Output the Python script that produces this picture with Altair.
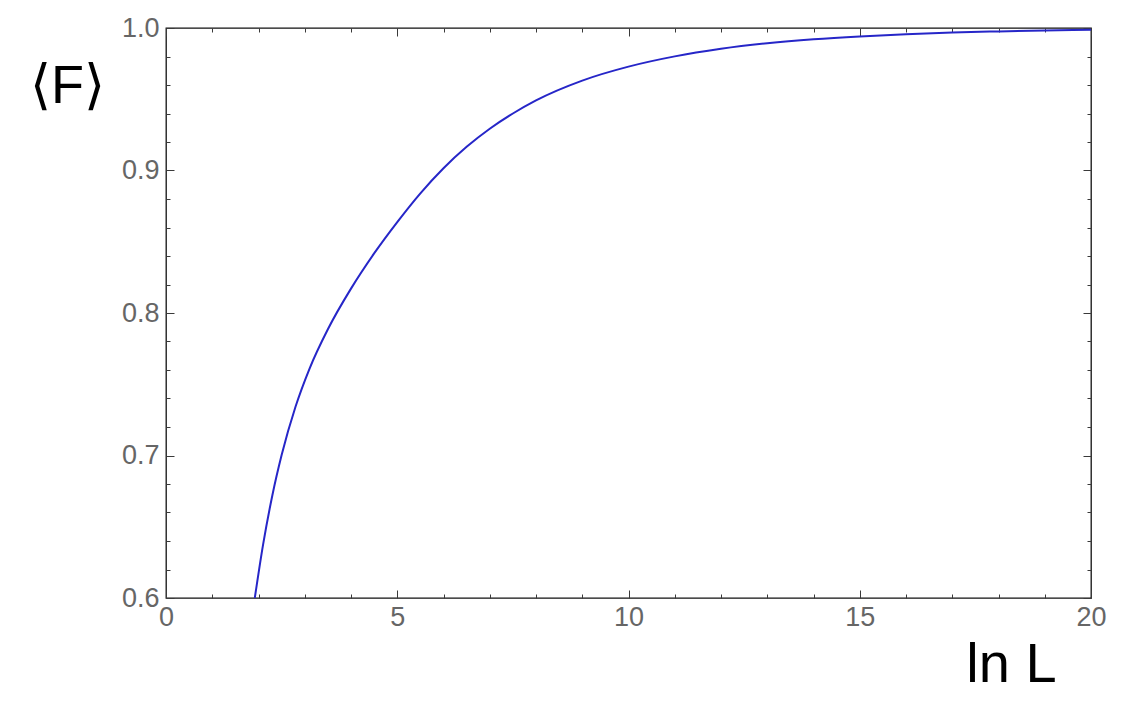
import altair as alt
import pandas as pd

# values
ln_L = [1.92, 2.1, 2.3, 2.5, 2.8, 3.1, 3.5, 4.0, 4.5, 5.0, 5.5, 6.0, 6.5, 7.0,
        7.5, 8.0, 9.0, 10.0, 11.0, 12.0, 13.0, 14.0, 15.0, 16.0, 17.0, 18.0,
        19.0, 20.0]
F_mean = [0.600, 0.6376, 0.6721, 0.7003, 0.7342, 0.7607, 0.7886, 0.8171, 0.8418,
          0.8638, 0.8840, 0.9016, 0.9166, 0.9293, 0.9400, 0.9492, 0.9631, 0.9729,
          0.9801, 0.9854, 0.9893, 0.9921, 0.9941, 0.9956, 0.9968, 0.9976, 0.9982,
          0.9987]

x_major = [0, 5, 10, 15, 20]
x_minor = [v for v in range(21) if v % 5]
y_major = [0.6, 0.7, 0.8, 0.9, 1.0]
y_minor = [0.62, 0.64, 0.66, 0.68, 0.72, 0.74, 0.76, 0.78, 0.82, 0.84, 0.86, 0.88,
           0.92, 0.94, 0.96, 0.98]

W, H = 925, 570
FONT = "Liberation Sans"
LINE_COLOR = "#2626c8"
TICK_COLOR = "#3a3a3a"

df = pd.DataFrame({"lnL": ln_L, "F": F_mean})
xs = alt.Scale(domain=[0, 20], nice=False, zero=False)
ys = alt.Scale(domain=[0.6, 1.0], nice=False, zero=False)


def layer(xaxis, yaxis, visible=False):
    m = alt.Chart(df).mark_line(
        color=LINE_COLOR, strokeWidth=2, clip=True, interpolate="monotone",
        strokeOpacity=1 if visible else 0,
    )
    return m.encode(
        x=alt.X("lnL:Q", scale=xs, axis=xaxis),
        y=alt.Y("F:Q", scale=ys, axis=yaxis),
    )


def tick_axis(orient, offset, values, size):
    return alt.Axis(
        orient=orient, offset=offset, values=values, tickSize=size, labels=False,
        domain=False, grid=False, title="", ticks=True, tickColor=TICK_COLOR,
        tickWidth=1,
    )


x_label_axis = alt.Axis(
    orient="bottom", values=x_major, format="d", ticks=False, tickSize=0,
    domain=False, grid=False, labelFont=FONT, labelFontSize=27,
    labelColor="#666666", labelPadding=6, labelFlush=False, labelOverlap=False,
    title="ln L", titleFont=FONT, titleFontSize=56, titleFontWeight="normal",
    titleColor="black", titleX=845, titleY=66, titleAlign="center",
    titleBaseline="middle",
)
y_label_axis = alt.Axis(
    orient="left", values=y_major, format=".1f", ticks=False, tickSize=0,
    domain=False, grid=False, labelFont=FONT, labelFontSize=27,
    labelColor="#666666", labelPadding=7, labelFlush=False, labelOverlap=False,
    title="⟨F⟩", titleFont=FONT, titleFontSize=54, titleFontWeight="normal",
    titleColor="black", titleAngle=0, titleX=-99, titleY=58, titleAlign="center",
    titleBaseline="middle",
)

layers = [
    layer(x_label_axis, y_label_axis, visible=True),
    layer(tick_axis("top", -H, x_major, 8), tick_axis("right", -W, y_major, 8)),
    layer(tick_axis("bottom", -H, x_major, 8), tick_axis("left", -W, y_major, 8)),
    layer(tick_axis("top", -H, x_minor, 4), tick_axis("right", -W, y_minor, 4)),
    layer(tick_axis("bottom", -H, x_minor, 4), tick_axis("left", -W, y_minor, 4)),
]

chart = (
    alt.layer(*layers)
    .resolve_axis(x="independent", y="independent")
    .properties(
        width=W, height=H, autosize=alt.AutoSizeParams(type="none"),
        padding={"left": 158, "top": 20, "right": 30, "bottom": 100},
        background="white",
    )
    .configure_view(stroke="#111111", strokeWidth=1.3)
)

chart.save("out.html", embed_options={"renderer": "svg", "actions": False})
